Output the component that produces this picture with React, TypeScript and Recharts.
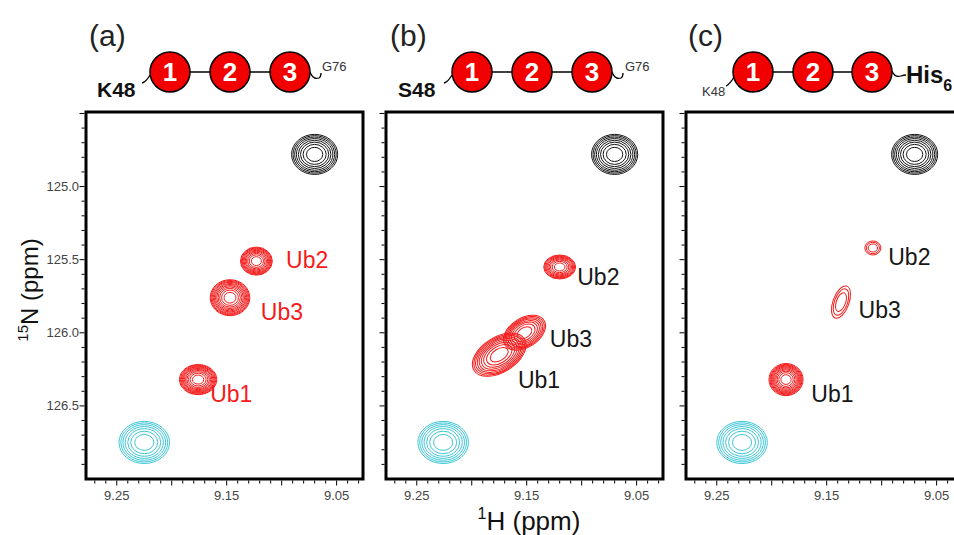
import React from 'react';
import { ScatterChart, Scatter, XAxis, YAxis, ReferenceArea } from 'recharts';

// axis ranges (ppm) and ticks
const X_DOMAIN: [number, number] = [9.026, 9.278];
const Y_DOMAIN: [number, number] = [124.49, 127.0];
const xLabels = [9.25, 9.15, 9.05];
const xMinor = [9.03, 9.04, 9.05, 9.06, 9.07, 9.08, 9.09, 9.1, 9.11, 9.12, 9.13, 9.14, 9.15, 9.16, 9.17, 9.18, 9.19, 9.2, 9.21, 9.22, 9.23, 9.24, 9.25, 9.26, 9.27];
const yLabels = [125.0, 125.5, 126.0, 126.5];
const yMinor = [124.5, 124.6, 124.7, 124.8, 124.9, 125.0, 125.1, 125.2, 125.3, 125.4, 125.5, 125.6, 125.7, 125.8, 125.9, 126.0, 126.1, 126.2, 126.3, 126.4, 126.5, 126.6, 126.7, 126.8, 126.9];

const RED = '#f51b1b';
const BLACK = '#161616';
const CYAN = '#3cc6d6';

// peak centres (1H, 15N), half widths (ppm), contour levels
type Peak = { x: number; y: number; rx: number; ry: number; n: number; color: string; angle?: number };
type PeakLabel = { x: number; y: number; text: string; color: string };

const peaksA: Peak[] = [
  { x: 9.07, y: 124.78, rx: 0.021, ry: 0.137, n: 8, color: BLACK },
  { x: 9.123, y: 125.51, rx: 0.0145, ry: 0.096, n: 10, color: RED },
  { x: 9.147, y: 125.76, rx: 0.018, ry: 0.123, n: 11, color: RED },
  { x: 9.176, y: 126.32, rx: 0.017, ry: 0.103, n: 11, color: RED },
  { x: 9.225, y: 126.75, rx: 0.023, ry: 0.144, n: 7, color: CYAN },
];
const peaksB: Peak[] = [
  { x: 9.07, y: 124.78, rx: 0.021, ry: 0.137, n: 8, color: BLACK },
  { x: 9.12, y: 125.55, rx: 0.0145, ry: 0.082, n: 9, color: RED },
  { x: 9.175, y: 126.15, rx: 0.027, ry: 0.12, n: 9, color: RED, angle: -32 },
  { x: 9.152, y: 126.0, rx: 0.021, ry: 0.1, n: 8, color: RED, angle: -32 },
  { x: 9.226, y: 126.75, rx: 0.023, ry: 0.144, n: 7, color: CYAN },
];
const peaksC: Peak[] = [
  { x: 9.07, y: 124.78, rx: 0.021, ry: 0.137, n: 8, color: BLACK },
  { x: 9.108, y: 125.42, rx: 0.0073, ry: 0.048, n: 3, color: RED },
  { x: 9.137, y: 125.79, rx: 0.0073, ry: 0.116, n: 3, color: RED, angle: 20 },
  { x: 9.187, y: 126.32, rx: 0.0155, ry: 0.11, n: 11, color: RED },
  { x: 9.227, y: 126.75, rx: 0.023, ry: 0.144, n: 7, color: CYAN },
];

const labelsA: PeakLabel[] = [
  { x: 9.096, y: 125.555, text: 'Ub2', color: RED },
  { x: 9.119, y: 125.91, text: 'Ub3', color: RED },
  { x: 9.165, y: 126.47, text: 'Ub1', color: RED },
];
const labelsB: PeakLabel[] = [
  { x: 9.104, y: 125.67, text: 'Ub2', color: BLACK },
  { x: 9.129, y: 126.1, text: 'Ub3', color: BLACK },
  { x: 9.158, y: 126.38, text: 'Ub1', color: BLACK },
];
const labelsC: PeakLabel[] = [
  { x: 9.094, y: 125.534, text: 'Ub2', color: BLACK },
  { x: 9.121, y: 125.897, text: 'Ub3', color: BLACK },
  { x: 9.164, y: 126.47, text: 'Ub1', color: BLACK },
];

const FONT = '"Liberation Sans", Arial, sans-serif';
const CH_W = 380;
const CH_H = 535;
const MARGIN = { top: 112, right: 17, bottom: 26, left: 46 };
const PLOT_W = CH_W - MARGIN.left - 40 - MARGIN.right;
const PLOT_H = CH_H - MARGIN.top - MARGIN.bottom - 30;
const PX_X = PLOT_W / (X_DOMAIN[1] - X_DOMAIN[0]);
const PX_Y = PLOT_H / (Y_DOMAIN[1] - Y_DOMAIN[0]);

const near = (a: number, b: number) => Math.abs(a - b) < 1e-6;
const isStep = (v: number, step: number) => near(v / step, Math.round(v / step));

const XTick = (props: any) => {
  const { x, y, payload } = props;
  const v = payload.value;
  const len = isStep(v, 0.05) ? 5 : 3;
  const lab = xLabels.some((t) => near(t, v));
  return (
    <g>
      <line x1={x} x2={x} y1={y + 1.5} y2={y + 1.5 + len} stroke="#000" strokeWidth={1} />
      {lab && (
        <text x={x} y={y + 21} textAnchor="middle" fontSize={13} fill="#444" fontFamily={FONT}>
          {v.toFixed(2)}
        </text>
      )}
    </g>
  );
};

const makeYTick = (showLabels: boolean) => (props: any) => {
  const { x, y, payload } = props;
  const v = payload.value;
  const len = isStep(v, 0.5) ? 5 : 3;
  const lab = showLabels && yLabels.some((t) => near(t, v));
  return (
    <g>
      <line x1={x - 1.5} x2={x - 1.5 - len} y1={y} y2={y} stroke="#000" strokeWidth={1} />
      {lab && (
        <text x={x - 7} y={y + 4.5} textAnchor="end" fontSize={13} fill="#444" fontFamily={FONT}>
          {v.toFixed(1)}
        </text>
      )}
    </g>
  );
};

const Contour = (props: any) => {
  const { cx, cy, payload } = props;
  const rx = payload.rx * PX_X;
  const ry = payload.ry * PX_Y;
  const rings = [];
  for (let k = 0; k < payload.n; k++) {
    const f = Math.sqrt((payload.n - k) / payload.n);
    rings.push(
      <ellipse key={k} cx={cx} cy={cy} rx={rx * f} ry={ry * f} fill="none" stroke={payload.color} strokeWidth={1} />
    );
  }
  return <g transform={`rotate(${payload.angle || 0} ${cx} ${cy})`}>{rings}</g>;
};

const LabelShape = (props: any) => {
  const { cx, cy, payload } = props;
  return (
    <text x={cx} y={cy} fontSize={23} fill={payload.color} fontFamily={FONT}>
      {payload.text}
    </text>
  );
};

const Panel = ({ left, peaks, labels, showY }: { left: number; peaks: Peak[]; labels: PeakLabel[]; showY: boolean }) => (
  <div style={{ position: 'absolute', left, top: 0 }}>
    <ScatterChart width={CH_W} height={CH_H} margin={MARGIN}>
      <XAxis
        type="number"
        dataKey="x"
        domain={X_DOMAIN}
        reversed
        allowDataOverflow
        ticks={xMinor}
        interval={0}
        height={30}
        tickSize={0}
        tickMargin={0}
        axisLine={false}
        tickLine={false}
        tick={<XTick />}
      />
      <YAxis
        type="number"
        dataKey="y"
        domain={Y_DOMAIN}
        reversed
        allowDataOverflow
        ticks={yMinor}
        interval={0}
        width={40}
        tickSize={0}
        tickMargin={0}
        axisLine={false}
        tickLine={false}
        tick={makeYTick(showY)}
      />
      <Scatter data={peaks} shape={Contour} isAnimationActive={false} />
      <Scatter data={labels} shape={LabelShape} isAnimationActive={false} />
      <ReferenceArea
        x1={X_DOMAIN[0]}
        x2={X_DOMAIN[1]}
        y1={Y_DOMAIN[0]}
        y2={Y_DOMAIN[1]}
        fill="none"
        fillOpacity={0}
        stroke="#000"
        strokeWidth={3}
        ifOverflow="visible"
      />
    </ScatterChart>
  </div>
);

// ubiquitin chain sketches above each panel
const chains = [
  { title: '(a)', titleX: 89, cx: [170, 230, 290] },
  { title: '(b)', titleX: 390, cx: [472, 532, 592] },
  { title: '(c)', titleX: 688, cx: [753, 813, 872] },
];

const Chain = ({ cx }: { cx: number[] }) => (
  <g>
    <line x1={cx[0]} x2={cx[2]} y1={72} y2={72} stroke="#000" strokeWidth={1.5} />
    {cx.map((c, i) => (
      <g key={i}>
        <circle cx={c} cy={72} r={20} fill="#f20000" stroke="#000" strokeWidth={1.5} />
        <text x={c} y={81} textAnchor="middle" fontSize={26} fontWeight="bold" fill="#fff" fontFamily={FONT}>
          {i + 1}
        </text>
      </g>
    ))}
  </g>
);

export default function App() {
  return (
    <div
      style={{
        position: 'absolute',
        left: 0,
        top: 0,
        width: 954,
        height: 535,
        overflow: 'hidden',
        background: '#fff',
        fontFamily: FONT,
      }}
    >
      <Panel left={0} peaks={peaksA} labels={labelsA} showY />
      <Panel left={300} peaks={peaksB} labels={labelsB} showY={false} />
      <Panel left={600} peaks={peaksC} labels={labelsC} showY={false} />
      <svg
        width={954}
        height={535}
        style={{ position: 'absolute', left: 0, top: 0, pointerEvents: 'none' }}
        fontFamily={FONT}
      >
        {chains.map((c) => (
          <g key={c.title}>
            <text x={c.titleX} y={46} fontSize={30} fill="#222">
              {c.title}
            </text>
            <Chain cx={c.cx} />
          </g>
        ))}
        {/* (a) */}
        <text x={97} y={97} fontSize={21} fontWeight="bold" fill="#111">K48</text>
        <path d="M 142 83 q 4 -1 8 -8" fill="none" stroke="#000" strokeWidth={1.3} />
        <path d="M 310 72 q 3 8 9 6 q 2 -1 2 -5" fill="none" stroke="#000" strokeWidth={1.3} />
        <text x={322} y={71} fontSize={13} fill="#333">G76</text>
        {/* (b) */}
        <text x={398} y={97} fontSize={21} fontWeight="bold" fill="#111">S48</text>
        <path d="M 444 83 q 4 -1 8 -8" fill="none" stroke="#000" strokeWidth={1.3} />
        <path d="M 612 72 q 3 8 9 6 q 2 -1 2 -5" fill="none" stroke="#000" strokeWidth={1.3} />
        <text x={625} y={71} fontSize={13} fill="#333">G76</text>
        {/* (c) */}
        <text x={702} y={96} fontSize={13} fill="#333">K48</text>
        <path d="M 726 86 q 4 -2 8 -9" fill="none" stroke="#000" strokeWidth={1.3} />
        <path d="M 892 71 q 3 7 9 5 q 3 -1 5 -1" fill="none" stroke="#000" strokeWidth={1.3} />
        <text x={906} y={83} fontSize={24} fontWeight="bold" fill="#111">
          His<tspan fontSize={16} dy={8}>6</tspan>
        </text>
        {/* axis titles */}
        <text x={529} y={530} textAnchor="middle" fontSize={26} fill="#111">
          <tspan fontSize={16} dy={-11}>1</tspan>
          <tspan dy={11}>H (ppm)</tspan>
        </text>
        <text x={38} y={290} textAnchor="middle" fontSize={24} fill="#111" transform="rotate(-90 38 290)">
          <tspan fontSize={15} dy={-10}>15</tspan>
          <tspan dy={10}>N (ppm)</tspan>
        </text>
      </svg>
    </div>
  );
}
